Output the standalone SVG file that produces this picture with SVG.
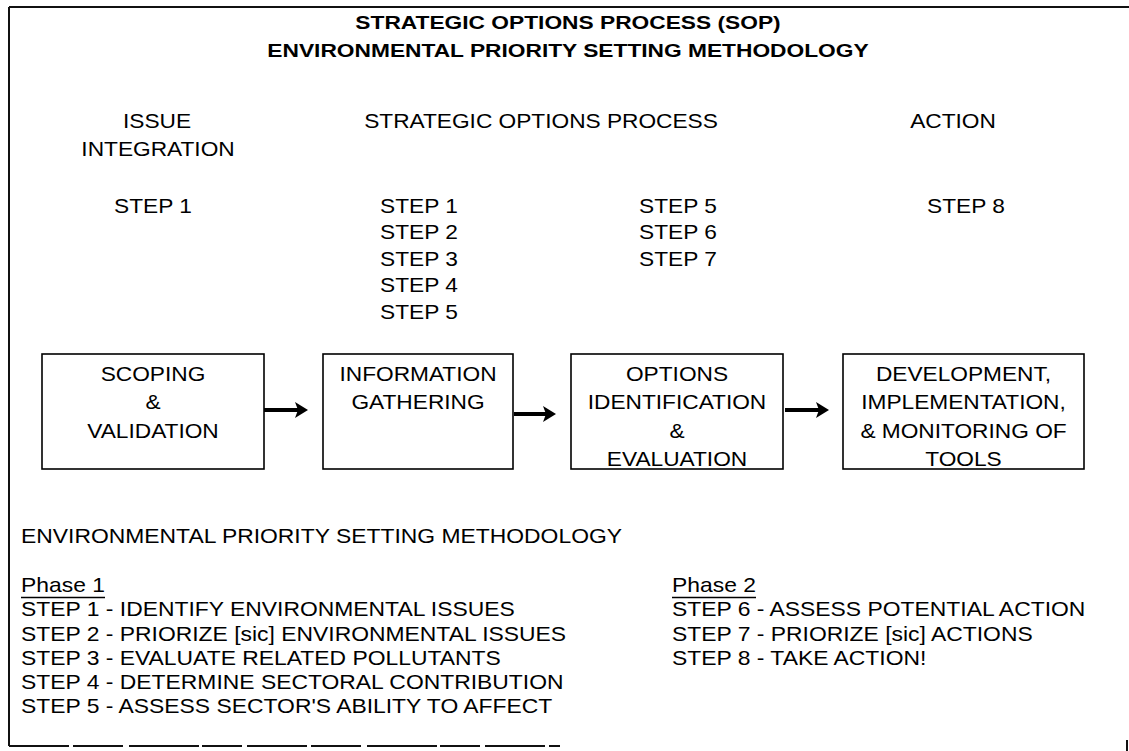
<svg xmlns="http://www.w3.org/2000/svg" width="1129" height="751" viewBox="0 0 1129 751">
<style>
  text { font-family: "Liberation Sans", Arial, Helvetica, sans-serif; fill: #000; }
  .t { font-size: 20px; }
  .c { text-anchor: middle; }
  .h { font-size: 18.5px; font-weight: bold; text-anchor: middle; }
  .box { fill: #fff; stroke: #000; stroke-width: 1.6; }
  .frame { stroke: #111; stroke-width: 2; fill: none; }
  .arrow { stroke: #000; stroke-width: 4; fill: none; marker-end: url(#ah); }
  .ul { stroke: #000; stroke-width: 1.5; }
</style>
<defs>
  <marker id="ah" markerUnits="userSpaceOnUse" markerWidth="14" markerHeight="16" refX="3" refY="8" orient="auto">
    <path d="M0,0 L13,8 L0,16 L3,8 Z" fill="#000"/>
  </marker>
</defs>
<rect width="1129" height="751" fill="#fff"/>

<g id="frame">
  <line class="frame" x1="9" y1="7" x2="1129" y2="7"/>
  <line class="frame" x1="9" y1="7" x2="9" y2="746"/>
  <line class="frame" x1="9" y1="746" x2="560" y2="746" stroke-dasharray="60 4 50 6 70 3 40 5"/>
  <line class="frame" x1="1127" y1="740" x2="1127" y2="751" stroke-width="1"/>
</g>

<g id="title">
  <text class="h" transform="matrix(1.23 0 0 1 568 0)" x="0" y="29">STRATEGIC OPTIONS PROCESS (SOP)</text>
  <text class="h" transform="matrix(1.23 0 0 1 568 0)" x="0" y="57">ENVIRONMENTAL PRIORITY SETTING METHODOLOGY</text>
</g>

<g id="col-issue">
  <text class="t c" transform="matrix(1.135 0 0 1 157 0)" x="0" y="128">ISSUE</text>
  <text class="t c" transform="matrix(1.135 0 0 1 158 0)" x="0" y="156">INTEGRATION</text>
  <text class="t c" transform="matrix(1.135 0 0 1 153 0)" x="0" y="213">STEP 1</text>
</g>

<g id="col-sop">
  <text class="t c" transform="matrix(1.135 0 0 1 541 0)" x="0" y="128">STRATEGIC OPTIONS PROCESS</text>
  <text class="t c" transform="matrix(1.135 0 0 1 419 0)" x="0" y="213">STEP 1</text>
  <text class="t c" transform="matrix(1.135 0 0 1 419 0)" x="0" y="239.5">STEP 2</text>
  <text class="t c" transform="matrix(1.135 0 0 1 419 0)" x="0" y="266">STEP 3</text>
  <text class="t c" transform="matrix(1.135 0 0 1 419 0)" x="0" y="292.5">STEP 4</text>
  <text class="t c" transform="matrix(1.135 0 0 1 419 0)" x="0" y="319">STEP 5</text>
  <text class="t c" transform="matrix(1.135 0 0 1 678 0)" x="0" y="213">STEP 5</text>
  <text class="t c" transform="matrix(1.135 0 0 1 678 0)" x="0" y="239.5">STEP 6</text>
  <text class="t c" transform="matrix(1.135 0 0 1 678 0)" x="0" y="266">STEP 7</text>
</g>

<g id="col-action">
  <text class="t c" transform="matrix(1.135 0 0 1 953 0)" x="0" y="128">ACTION</text>
  <text class="t c" transform="matrix(1.135 0 0 1 966 0)" x="0" y="213">STEP 8</text>
</g>

<g id="node-scoping">
  <rect class="box" x="42" y="354" width="222" height="115"/>
  <text class="t c" transform="matrix(1.135 0 0 1 153 0)" x="0" y="381">SCOPING</text>
  <text class="t c" transform="matrix(1.135 0 0 1 153 0)" x="0" y="409.5">&amp;</text>
  <text class="t c" transform="matrix(1.135 0 0 1 153 0)" x="0" y="438">VALIDATION</text>
</g>

<g id="node-information">
  <rect class="box" x="323" y="354" width="190" height="115"/>
  <text class="t c" transform="matrix(1.135 0 0 1 418 0)" x="0" y="381">INFORMATION</text>
  <text class="t c" transform="matrix(1.135 0 0 1 418 0)" x="0" y="409.5">GATHERING</text>
</g>

<g id="node-options">
  <rect class="box" x="571" y="354" width="212" height="115"/>
  <text class="t c" transform="matrix(1.135 0 0 1 677 0)" x="0" y="381">OPTIONS</text>
  <text class="t c" transform="matrix(1.135 0 0 1 677 0)" x="0" y="409.5">IDENTIFICATION</text>
  <text class="t c" transform="matrix(1.135 0 0 1 677 0)" x="0" y="438">&amp;</text>
  <text class="t c" transform="matrix(1.135 0 0 1 677 0)" x="0" y="466">EVALUATION</text>
</g>

<g id="node-development">
  <rect class="box" x="843" y="354" width="241" height="115"/>
  <text class="t c" transform="matrix(1.135 0 0 1 963.5 0)" x="0" y="381">DEVELOPMENT,</text>
  <text class="t c" transform="matrix(1.135 0 0 1 963.5 0)" x="0" y="409.5">IMPLEMENTATION,</text>
  <text class="t c" transform="matrix(1.135 0 0 1 963.5 0)" x="0" y="438">&amp; MONITORING OF</text>
  <text class="t c" transform="matrix(1.135 0 0 1 963.5 0)" x="0" y="466">TOOLS</text>
</g>

<g id="connectors">
  <line class="arrow" x1="264" y1="410" x2="298" y2="410"/>
  <line class="arrow" x1="514" y1="414" x2="546" y2="414"/>
  <line class="arrow" x1="785" y1="410" x2="819" y2="410"/>
</g>

<g id="methodology">
  <text class="t" transform="matrix(1.145 0 0 1 21 0)" x="0" y="543">ENVIRONMENTAL PRIORITY SETTING METHODOLOGY</text>
</g>

<g id="phase1">
  <text class="t" transform="matrix(1.145 0 0 1 21 0)" x="0" y="592">Phase 1</text>
  <line class="ul" x1="21" y1="597.5" x2="105" y2="597.5"/>
  <text class="t" transform="matrix(1.145 0 0 1 21 0)" x="0" y="616.5">STEP 1 - IDENTIFY ENVIRONMENTAL ISSUES</text>
  <text class="t" transform="matrix(1.145 0 0 1 21 0)" x="0" y="641">STEP 2 - PRIORIZE [sic] ENVIRONMENTAL ISSUES</text>
  <text class="t" transform="matrix(1.145 0 0 1 21 0)" x="0" y="665.5">STEP 3 - EVALUATE RELATED POLLUTANTS</text>
  <text class="t" transform="matrix(1.145 0 0 1 21 0)" x="0" y="689.5">STEP 4 - DETERMINE SECTORAL CONTRIBUTION</text>
  <text class="t" transform="matrix(1.145 0 0 1 21 0)" x="0" y="713.5">STEP 5 - ASSESS SECTOR'S ABILITY TO AFFECT</text>
</g>

<g id="phase2">
  <text class="t" transform="matrix(1.145 0 0 1 672 0)" x="0" y="592">Phase 2</text>
  <line class="ul" x1="672" y1="597.5" x2="756" y2="597.5"/>
  <text class="t" transform="matrix(1.145 0 0 1 672 0)" x="0" y="616.5">STEP 6 - ASSESS POTENTIAL ACTION</text>
  <text class="t" transform="matrix(1.145 0 0 1 672 0)" x="0" y="641">STEP 7 - PRIORIZE [sic] ACTIONS</text>
  <text class="t" transform="matrix(1.145 0 0 1 672 0)" x="0" y="665.5">STEP 8 - TAKE ACTION!</text>
</g>
</svg>
